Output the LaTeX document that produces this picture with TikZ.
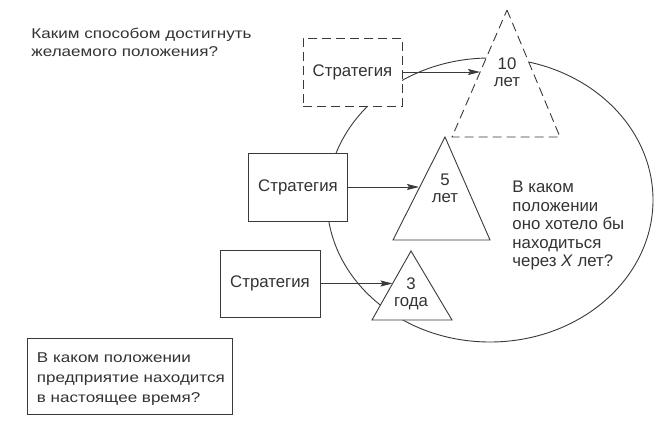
\documentclass[tikz,border=0pt]{standalone}
\usepackage{fontspec}
\setmainfont{Liberation Sans}
\newfontfamily\qfont[FakeStretch=1.2]{Liberation Sans}
\usetikzlibrary{arrows.meta}
\definecolor{ink}{HTML}{3A3A3A}
\definecolor{txt}{HTML}{333333}
\begin{document}
\begin{tikzpicture}[x=1pt,y=-1pt, line width=0.9pt,
  every node/.style={text=txt},
  big/.style={font=\fontsize{16.8}{18.5}\selectfont},
  tribig/.style={font=\fontsize{16.8}{17.5}\selectfont},
  small/.style={font=\qfont\fontsize{14.2}{18}\selectfont},
  stratbox/.style={draw=ink, fill=white, minimum width=99pt, minimum height=68pt, inner sep=0pt, big},
  dashpat/.style={dash pattern=on 9pt off 5pt},
  tri/.style={draw=ink, fill=white, line join=miter},
  arr/.style={draw=ink, -{Stealth[length=12pt,width=6pt,inset=2pt]}},
]
\useasboundingbox (0,0) rectangle (662,428);
\fill[white] (0,0) rectangle (662,428);

% ellipse (desired state region)
\draw[ink] (490,200) ellipse [x radius=163pt, y radius=142pt];

% triangles
\draw[tri, dashpat] (507,10) -- (560,137) -- (452,137) -- cycle;
\draw[tri] (445,137) -- (490,240) -- (393,240) -- cycle;
\draw[tri] (411,251) -- (452,320) -- (372,320) -- cycle;

% triangle labels (base = baseline of the last line)
\node[tribig, align=center, anchor=base, inner sep=0pt] (t10) at (507,87) {10\\лет};
\node[tribig, align=center, anchor=base, inner sep=0pt] (t5) at (445,202.7) {5\\лет};
\node[tribig, align=center, anchor=base, inner sep=0pt] (t3) at (411,306.7) {3\\года};

% strategy boxes
\node[stratbox, dashpat] (s1) at (352.5,72) {Стратегия};
\node[stratbox] (s2) at (298,187) {Стратегия};
\node[stratbox, minimum width=100pt, minimum height=67pt] (s3) at (270,283.5) {Стратегия};

% arrow end points on the triangle sides
\coordinate (e1) at (480,72);
\coordinate (e2) at (419,187);
\coordinate (e3) at (392.5,283.5);
\draw[arr] (s1.east) -- (e1);
\draw[arr] (s2.east) -- (e2);
\draw[arr] (s3.east) -- (e3);

% texts
\node[small, anchor=base west, align=left, inner sep=0pt] (q1) at (31,57)
  {Каким способом достигнуть\\желаемого положения?};
\node[big, anchor=base west, align=left, inner sep=0pt] (q2) at (512,266.7)
  {В каком\\положении\\оно хотело бы\\находиться\\через \textit{X} лет?};
\node[draw=ink, minimum width=205pt, minimum height=76pt, inner sep=0pt] (q3box) at (129.5,376) {};
\node[font=\qfont\fontsize{14.2}{20}\selectfont, anchor=base west, align=left, inner sep=0pt]
  (q3) at (36.5,402)
  {В каком положении\\предприятие находится\\в настоящее время?};
\end{tikzpicture}
\end{document}
